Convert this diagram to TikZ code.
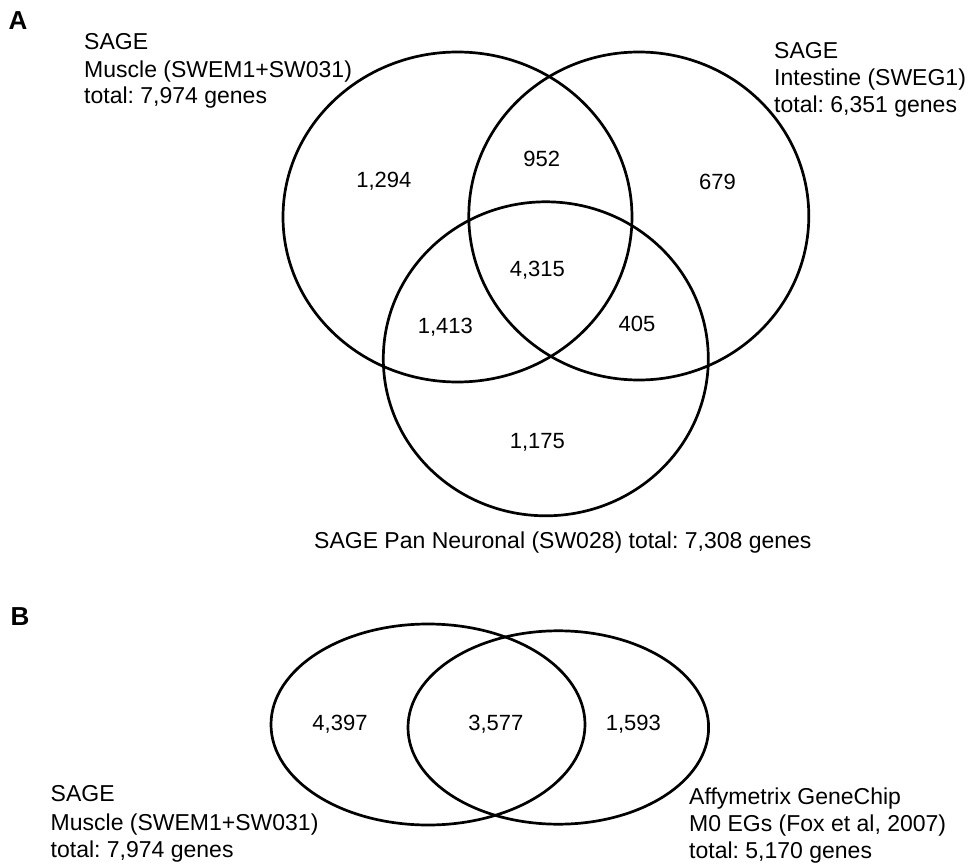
\documentclass[tikz,border=0pt]{standalone}
\usepackage{fontspec}
\setmainfont{Liberation Sans}
\usetikzlibrary{shapes.geometric}
\frenchspacing
\begin{document}
\begin{tikzpicture}[x=1pt,y=-1pt,
  setshape/.style={draw=black, line width=2.7pt, ellipse, inner sep=0pt},
  lbl/.style={anchor=base west, inner sep=0pt, font=\fontsize{23}{27}\selectfont},
  num/.style={anchor=base, inner sep=0pt, font=\fontsize{22}{27}\selectfont},
  panel/.style={anchor=base west, inner sep=0pt, font=\fontsize{26}{30}\selectfont\bfseries}]
\useasboundingbox (0,0) rectangle (970,864);
\fill[white] (0,0) rectangle (970,864);

% Panel A
\node[panel] (pA) at (8.5,29.3) {A};
\node[setshape, minimum width=349pt, minimum height=330pt] (muscle) at (457.5,217) {};
\node[setshape, minimum width=340pt, minimum height=328pt] (intestine) at (638.8,216) {};
\node[setshape, minimum width=325pt, minimum height=314pt] (neuron) at (545.8,358.8) {};

\node[lbl] (mA1) at (84,50) {SAGE};
\node[lbl] (mA2) at (84,77.3) {Muscle (SWEM1+SW031)};
\node[lbl] (mA3) at (84,104) {total: 7,974 genes};

\node[lbl] (iA1) at (774,58.3) {SAGE};
\node[lbl] (iA2) at (774,85.7) {Intestine (SWEG1)};
\node[lbl] (iA3) at (774,112.3) {total: 6,351 genes};

\node[lbl] (nA1) at (314,548.3) {SAGE Pan Neuronal (SW028) total: 7,308 genes};

\node[num] (n1294) at (383.8,187.5) {1,294};
\node[num] (n952) at (541.7,166.7) {952};
\node[num] (n679) at (717.5,189.3) {679};
\node[num] (n4315) at (537.3,276.7) {4,315};
\node[num] (n1413) at (445.3,333) {1,413};
\node[num] (n405) at (637,331.7) {405};
\node[num] (n1175) at (537.3,448.3) {1,175};

% Panel B
\node[panel] (pB) at (10.5,625.5) {B};
\node[setshape, minimum width=314pt, minimum height=201pt] (muscleB) at (428,724.5) {};
\node[setshape, minimum width=300.6pt, minimum height=193.4pt] (affy) at (558.3,727.5) {};

\node[num] (n4397) at (340,730) {4,397};
\node[num] (n3577) at (495.8,730) {3,577};
\node[num] (n1593) at (633.3,730) {1,593};

\node[lbl] (mB1) at (50.5,801.7) {SAGE};
\node[lbl] (mB2) at (50.5,830) {Muscle (SWEM1+SW031)};
\node[lbl] (mB3) at (50.5,857) {total: 7,974 genes};

\node[lbl] (aB1) at (689,804) {Affymetrix GeneChip};
\node[lbl] (aB2) at (689,831.7) {M0 EGs (Fox et al, 2007)};
\node[lbl] (aB3) at (689,858.3) {total: 5,170 genes};
\end{tikzpicture}
\end{document}
